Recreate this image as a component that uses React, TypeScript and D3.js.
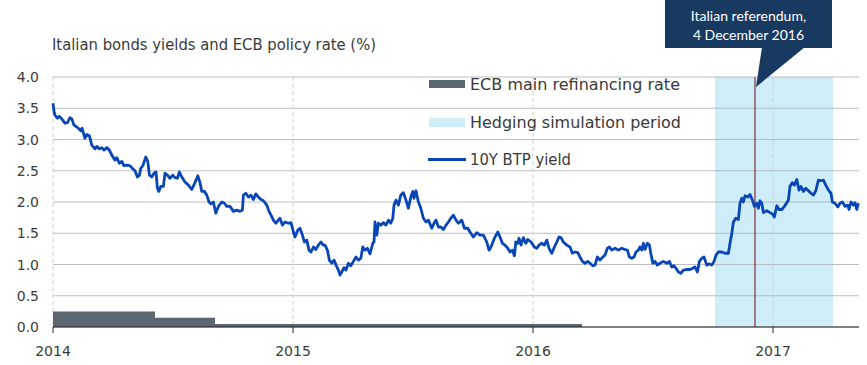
import React from 'react';
import * as d3 from 'd3';

// months elapsed since 1 Jan 2014
const btpMonth = [
  0, 0.05, 0.1, 0.22, 0.32, 0.44, 0.6, 0.72, 0.85, 0.94, 1.05, 1.19, 1.27, 1.39, 1.45, 1.6, 1.69, 1.82, 1.94, 2.1,
  2.19, 2.32, 2.44, 2.55, 2.69, 2.82, 2.94, 3.1, 3.19, 3.32, 3.44, 3.55, 3.69, 3.85, 3.99, 4.1, 4.22, 4.32, 4.39, 4.49,
  4.64, 4.74, 4.82, 4.94, 5.05, 5.15, 5.22, 5.29, 5.39, 5.52, 5.6, 5.72, 5.85, 5.99, 6.1, 6.22, 6.32, 6.44, 6.6, 6.77,
  6.94, 7.07, 7.24, 7.35, 7.44, 7.57, 7.69, 7.8, 7.9, 8.02, 8.14, 8.27, 8.44, 8.57, 8.69, 8.85, 9.02, 9.19, 9.35, 9.47,
  9.52, 9.64, 9.77, 9.9, 10.02, 10.14, 10.27, 10.4, 10.52, 10.69, 10.8, 10.9, 11.02, 11.14, 11.27, 11.35, 11.47, 11.6, 11.77, 11.9,
  12.02, 12.1, 12.24, 12.35, 12.47, 12.57, 12.69, 12.8, 12.9, 13.02, 13.14, 13.27, 13.4, 13.52, 13.6, 13.72, 13.82, 13.94, 14.05, 14.15,
  14.27, 14.35, 14.44, 14.55, 14.65, 14.77, 14.89, 15.02, 15.15, 15.27, 15.39, 15.49, 15.6, 15.72, 15.85, 15.99, 16.05, 16.1, 16.19, 16.27,
  16.39, 16.52, 16.65, 16.77, 16.89, 16.99, 17.05, 17.15, 17.27, 17.39, 17.52, 17.65, 17.77, 17.89, 17.99, 18.05, 18.15, 18.27, 18.39, 18.52,
  18.65, 18.77, 18.94, 19.05, 19.15, 19.27, 19.39, 19.52, 19.65, 19.77, 19.89, 20.02, 20.15, 20.27, 20.44, 20.57, 20.74, 20.85, 21.02, 21.19,
  21.35, 21.52, 21.69, 21.8, 21.9, 22.07, 22.24, 22.35, 22.47, 22.6, 22.74, 22.85, 22.97, 23.07, 23.14, 23.24, 23.3, 23.4, 23.52, 23.64,
  23.74, 23.9, 24.07, 24.19, 24.3, 24.44, 24.57, 24.69, 24.8, 24.94, 25.07, 25.19, 25.3, 25.4, 25.52, 25.69, 25.85, 25.97, 26.1, 26.24,
  26.35, 26.47, 26.6, 26.74, 26.85, 26.99, 27.1, 27.22, 27.35, 27.49, 27.6, 27.72, 27.82, 27.94, 28.1, 28.27, 28.44, 28.6, 28.72, 28.82,
  28.94, 29.05, 29.15, 29.27, 29.35, 29.44, 29.52, 29.6, 29.72, 29.82, 29.89, 29.99, 30.1, 30.22, 30.35, 30.52, 30.69, 30.82, 30.94, 31.05,
  31.15, 31.27, 31.39, 31.52, 31.69, 31.85, 31.99, 32.1, 32.22, 32.32, 32.44, 32.55, 32.69, 32.82, 32.94, 33.05, 33.15, 33.27, 33.44, 33.6,
  33.77, 33.85, 33.94, 34.02, 34.14, 34.27, 34.35, 34.44, 34.52, 34.6, 34.74, 34.85, 34.97, 35.07, 35.19, 35.27, 35.35, 35.44, 35.52, 35.69,
  35.85, 35.97, 36.07, 36.19, 36.3, 36.44, 36.57, 36.69, 36.77, 36.85, 36.97, 37.07, 37.19, 37.3, 37.4, 37.52, 37.64, 37.77, 37.9, 38.02,
  38.14, 38.27, 38.4, 38.52, 38.64, 38.77, 38.9, 38.97, 39.1, 39.24, 39.35, 39.47, 39.6, 39.74, 39.8, 39.9, 40.02, 40.1, 40.19, 40.27,
];

// 10Y BTP yield, %
const btpYield = [
  3.58, 3.45, 3.39, 3.34, 3.37, 3.33, 3.26, 3.27, 3.35, 3.33, 3.23, 3.2, 3.18, 3.14, 3.18, 3.02, 3.08, 3.06, 2.91, 2.85,
  2.89, 2.85, 2.87, 2.83, 2.87, 2.83, 2.75, 2.67, 2.71, 2.62, 2.65, 2.58, 2.59, 2.58, 2.53, 2.5, 2.4, 2.43, 2.54, 2.58,
  2.72, 2.65, 2.43, 2.4, 2.46, 2.48, 2.22, 2.17, 2.25, 2.25, 2.46, 2.43, 2.38, 2.43, 2.39, 2.38, 2.48, 2.4, 2.32, 2.27,
  2.2, 2.29, 2.42, 2.31, 2.17, 2.17, 2.11, 2.0, 1.97, 2.0, 1.82, 1.93, 2.0, 1.98, 1.93, 1.93, 1.85, 1.87, 1.85, 1.87,
  2.11, 2.14, 2.08, 2.11, 2.04, 2.13, 2.08, 2.04, 2.02, 1.95, 1.85, 1.79, 1.71, 1.66, 1.71, 1.74, 1.63, 1.68, 1.66, 1.67,
  1.52, 1.44, 1.55, 1.58, 1.47, 1.36, 1.39, 1.23, 1.2, 1.28, 1.24, 1.31, 1.36, 1.31, 1.31, 1.23, 1.07, 1.02, 1.07, 0.99,
  0.91, 0.83, 0.88, 0.95, 0.91, 1.02, 0.98, 1.05, 1.12, 1.07, 1.1, 1.28, 1.23, 1.26, 1.17, 1.34, 1.36, 1.68, 1.47, 1.66,
  1.63, 1.67, 1.63, 1.71, 1.66, 1.74, 1.95, 2.03, 1.95, 2.11, 2.15, 2.03, 1.9, 2.08, 2.17, 2.06, 2.18, 2.0, 1.9, 1.74,
  1.68, 1.71, 1.58, 1.66, 1.71, 1.6, 1.6, 1.56, 1.63, 1.68, 1.74, 1.79, 1.71, 1.66, 1.71, 1.58, 1.58, 1.52, 1.44, 1.51,
  1.47, 1.47, 1.36, 1.23, 1.28, 1.42, 1.52, 1.44, 1.34, 1.31, 1.26, 1.2, 1.23, 1.14, 1.36, 1.34, 1.42, 1.31, 1.43, 1.34,
  1.4, 1.36, 1.28, 1.26, 1.31, 1.34, 1.31, 1.39, 1.26, 1.18, 1.28, 1.36, 1.44, 1.43, 1.36, 1.31, 1.28, 1.18, 1.2, 1.19,
  1.12, 1.05, 1.02, 1.05, 1.02, 0.98, 0.99, 1.12, 1.07, 1.12, 1.15, 1.26, 1.28, 1.23, 1.26, 1.23, 1.26, 1.24, 1.23, 1.12,
  1.1, 1.12, 1.2, 1.23, 1.28, 1.23, 1.34, 1.24, 1.34, 1.31, 1.18, 1.02, 1.05, 0.99, 1.02, 1.05, 1.02, 1.05, 0.96, 0.98,
  0.94, 0.88, 0.86, 0.91, 0.92, 0.92, 0.94, 0.96, 0.88, 1.05, 1.1, 1.12, 0.99, 1.01, 0.99, 1.05, 1.15, 1.2, 1.2, 1.18,
  1.18, 1.34, 1.5, 1.68, 1.74, 1.72, 1.98, 2.06, 2.0, 2.1, 2.08, 2.12, 2.03, 1.93, 1.98, 1.9, 2.02, 1.98, 1.83, 1.86,
  1.83, 1.81, 1.76, 1.94, 1.88, 1.88, 1.93, 1.99, 2.03, 2.25, 2.31, 2.27, 2.36, 2.19, 2.25, 2.17, 2.22, 2.18, 2.14, 2.11,
  2.18, 2.35, 2.34, 2.35, 2.27, 2.19, 2.14, 2.0, 1.98, 1.92, 1.98, 2.0, 1.93, 1.95, 1.88, 2.0, 1.95, 1.99, 1.88, 1.98,
];

// ECB main refinancing rate, step changes (month since Jan 2014, %)
const ecbMonth = [0, 5.1, 8.1, 26.45];
const ecbRate = [0.25, 0.15, 0.05, 0];

const hedgingPeriod = [33.1, 39.0];
const referendumMonth = 35.1;

const yTicks = [0, 0.5, 1, 1.5, 2, 2.5, 3, 3.5, 4];
const yearTicks = [2014, 2015, 2016, 2017];

const legendLabels = ['ECB main refinancing rate', 'Hedging simulation period', '10Y BTP yield'];
const legendWidths = [210, 211, 101];

const W = 867;
const H = 365;
const font = 'DejaVu Sans, sans-serif';
const textColor = '#3a3a3a';

export default function App() {
  const x = d3.scaleLinear().domain([0, 40.3]).range([53, 859]);
  const y = d3.scaleLinear().domain([0, 4]).range([327, 77]);

  const yieldLine = d3
    .line<number>()
    .x((d, i) => x(btpMonth[i]))
    .y(d => y(d));

  const ecbData = ecbRate.map((r, i) => ({ m: ecbMonth[i], r }));
  const ecbArea = d3
    .area<{ m: number; r: number }>()
    .curve(d3.curveStepAfter)
    .x(d => x(d.m))
    .y0(y(0))
    .y1(d => y(d.r));

  const yearX = (yr: number) => x((yr - 2014) * 12);
  const refX = x(referendumMonth);

  return (
    <svg width={W} height={H} style={{ position: 'absolute', left: 0, top: 0 }}>
      <rect width={W} height={H} fill="#fff" />

      <text x={52} y={50} fontFamily={font} fontSize={15} fill={textColor} textLength={324} lengthAdjust="spacingAndGlyphs">
        Italian bonds yields and ECB policy rate (%)
      </text>

      {/* hedging window */}
      <rect
        x={x(hedgingPeriod[0])}
        y={y(4)}
        width={x(hedgingPeriod[1]) - x(hedgingPeriod[0])}
        height={y(0) - y(4)}
        fill="#cdeef8"
      />

      {/* grid */}
      {yTicks.map(t => (
        <line key={t} x1={53} x2={859} y1={y(t)} y2={y(t)} stroke="#a9a9a9" strokeOpacity={0.75} />
      ))}
      {yearTicks.map(yr => (
        <line
          key={yr}
          x1={yearX(yr)}
          x2={yearX(yr)}
          y1={y(4)}
          y2={y(0)}
          stroke="#cfcfcf"
          strokeDasharray="4,3"
        />
      ))}

      {/* ECB rate */}
      <path d={ecbArea(ecbData) ?? ''} fill="#5b6770" />

      {/* referendum marker */}
      <line x1={refX} x2={refX} y1={y(4)} y2={y(0)} stroke="#8b2a3e" strokeWidth={1.2} />

      {/* BTP yield */}
      <path d={yieldLine(btpYield) ?? ''} fill="none" stroke="#0846b8" strokeWidth={2.8} strokeLinejoin="round" />

      {/* x axis */}
      <line x1={53} x2={859} y1={y(0)} y2={y(0)} stroke="#222" />
      {yearTicks.map(yr => (
        <g key={yr}>
          <line x1={yearX(yr)} x2={yearX(yr)} y1={y(0)} y2={y(0) + 6} stroke="#222" />
          <text x={yearX(yr)} y={356} textAnchor="middle" fontFamily={font} fontSize={14} fill={textColor}>
            {yr}
          </text>
        </g>
      ))}

      {/* y labels */}
      {yTicks.map(t => (
        <text key={t} x={39} y={y(t) + 5} textAnchor="end" fontFamily={font} fontSize={14} fill={textColor}>
          {d3.format('.1f')(t)}
        </text>
      ))}

      {/* legend */}
      <g fontFamily={font} fontSize={15} fill={textColor}>
        <rect x={429} y={80} width={36} height={8} fill="#5b6770" />
        <rect x={429} y={118} width={36} height={9} fill="#cdeef8" />
        <line x1={428} x2={466} y1={159.5} y2={159.5} stroke="#0846b8" strokeWidth={2.8} />
        {legendLabels.map((l, i) => (
          <text key={l} x={470} y={[90, 128, 165][i]} textLength={legendWidths[i]} lengthAdjust="spacingAndGlyphs">
            {l}
          </text>
        ))}
      </g>

      {/* callout */}
      <rect x={665} y={0} width={167} height={48} fill="#183a61" />
      <path d={`M762,47 L805,47 L${refX + 1},87 Z`} fill="#183a61" />
      <g fontFamily="Lato, sans-serif" fontSize={14} fill="#fff" textAnchor="middle">
        <text x={748.5} y={21}>Italian referendum,</text>
        <text x={748.5} y={40}>4 December 2016</text>
      </g>
    </svg>
  );
}
